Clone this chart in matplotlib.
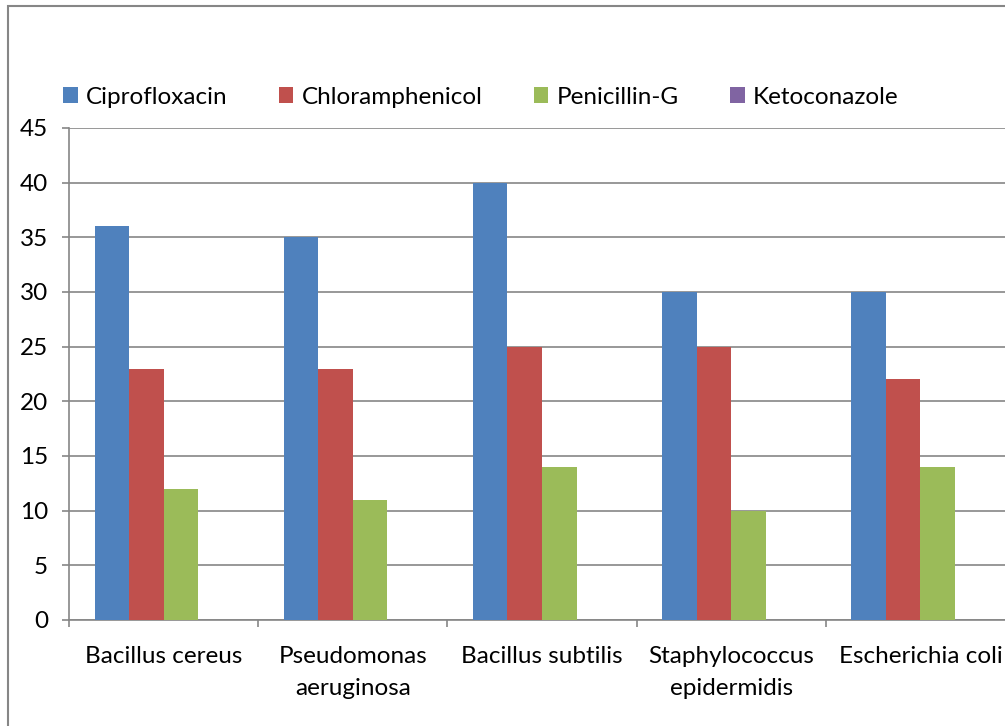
import matplotlib.pyplot as plt
import matplotlib.patches as mpatches
import numpy as np

organisms = ["Bacillus cereus", "Pseudomonas\naeruginosa", "Bacillus subtilis",
             "Staphylococcus\nepidermidis", "Escherichia coli"]
drugs = ["Ciprofloxacin", "Chloramphenicol", "Penicillin-G", "Ketoconazole"]
ciprofloxacin = [36, 35, 40, 30, 30]
chloramphenicol = [23, 23, 25, 25, 22]
penicillin_g = [12, 11, 14, 10, 14]
ketoconazole = [0, 0, 0, 0, 0]
colors = ["#4F81BD", "#C0504D", "#9BBB59", "#8064A2"]

plt.rcParams['font.family'] = ['Lato', 'DejaVu Sans']
grid_col = "#868686"
fs = 17.5

fig = plt.figure(figsize=(10.05, 7.26), dpi=100)
ax = fig.add_axes([69 / 1005, 106 / 726, (1015 - 69) / 1005, 492 / 726])

x = np.arange(len(organisms))
w = 0.1825
series = [ciprofloxacin, chloramphenicol, penicillin_g, ketoconazole]
for i, (vals, name) in enumerate(zip(series, drugs)):
    ax.bar(x + (i - 1.5) * w, vals, w, color=colors[i], label=name, zorder=3)

ax.set_xlim(-0.5, len(organisms) - 0.5)
ax.set_ylim(0, 45)
ax.set_yticks(range(0, 46, 5))
ax.yaxis.grid(True, color=grid_col, lw=1.2, zorder=0)
ax.set_axisbelow(True)

ax.set_xticks(x)
ax.set_xticklabels(organisms, fontsize=fs, linespacing=1.6)
ax.set_xticks(np.arange(-0.5, len(organisms)), minor=True)
ax.tick_params(axis='x', which='major', length=0, pad=19)
ax.tick_params(axis='x', which='minor', length=5, width=1.2, color=grid_col)
ax.tick_params(axis='y', labelsize=fs, length=5, width=1.2, color=grid_col, pad=10)

for s in ['top', 'right']:
    ax.spines[s].set_visible(False)
for s in ['left', 'bottom']:
    ax.spines[s].set_color(grid_col)
    ax.spines[s].set_linewidth(1.2)

fig.legend(loc='center left', bbox_to_anchor=(63 / 1005, 1 - 97 / 726), ncol=4,
           frameon=False, fontsize=fs, handlelength=0.6, handleheight=0.6,
           handletextpad=0.35, columnspacing=2.1, borderpad=0, borderaxespad=0)

frame = mpatches.Rectangle((8 / 1005, -0.1), 1.2, 1 - 6 / 726 + 0.1, transform=fig.transFigure,
                           fill=False, edgecolor=grid_col, lw=1.5)
fig.add_artist(frame)

fig.savefig("out.png", dpi=100)
